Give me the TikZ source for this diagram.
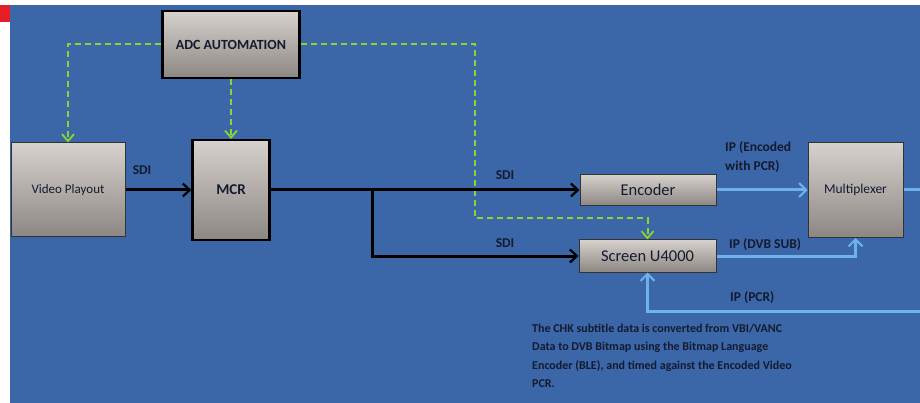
\documentclass[tikz,border=0pt]{standalone}
\usepackage{fontspec}
\setmainfont{Carlito}
\usetikzlibrary{arrows.meta}
\definecolor{bgblue}{RGB}{59,103,168}
\definecolor{lblue}{RGB}{110,178,236}
\definecolor{dgreen}{RGB}{140,212,50}
\definecolor{txt}{RGB}{20,26,48}
\definecolor{redmark}{RGB}{230,30,40}
\definecolor{boxtop}{RGB}{214,209,204}
\definecolor{boxbot}{RGB}{140,135,130}
\tikzset{
  box/.style={draw=black!80, line width=1pt, top color=boxtop, bottom color=boxbot, inner sep=0pt, align=center, text=txt},
  boxthick/.style={box, draw=black, line width=2.2pt},
  sdi/.style={line width=3pt, draw=black, -{Straight Barb[length=7pt,width=13pt,line width=2.2pt]}},
  ipl/.style={line width=3pt, draw=lblue, -{Straight Barb[length=7pt,width=14pt,line width=2pt]}},
  ctl/.style={line width=2pt, draw=dgreen, dash pattern=on 6pt off 4pt, -{Straight Barb[length=7pt,width=12pt,line width=1.8pt]}},
  lbl/.style={text=txt, font=\bfseries\fontsize{13.5}{15}\selectfont, inner sep=0pt}
}
\begin{document}
\begin{tikzpicture}[x=1pt,y=-1pt]
\useasboundingbox (0,0) rectangle (920,403);
\fill[white] (0,0) rectangle (920,403);
\fill[bgblue] (10,5) rectangle (920,403);
\fill[redmark] (0,5) rectangle (10,22);

\node[boxthick, minimum width=137pt, minimum height=67pt, font=\bfseries\fontsize{14}{16}\selectfont] (adc) at (231,44.5) {ADC AUTOMATION};
\node[box, minimum width=114pt, minimum height=94pt, font=\fontsize{13}{15}\selectfont] (vp) at (68,190) {Video Playout};
\node[boxthick, minimum width=77pt, minimum height=100pt, font=\bfseries\fontsize{15}{17}\selectfont] (mcr) at (231,190) {MCR};
\node[box, minimum width=136pt, minimum height=31pt, font=\fontsize{16.5}{18}\selectfont] (enc) at (648,190) {Encoder};
\node[box, minimum width=137pt, minimum height=32pt, font=\fontsize{16.5}{18}\selectfont] (scr) at (647.5,256) {Screen U4000};
\node[box, minimum width=95pt, minimum height=95pt, font=\fontsize{13.5}{15}\selectfont] (mux) at (855.5,190) {Multiplexer};

% control (green dashed)
\coordinate (g1) at (475,218);
\draw[ctl] (adc.west) -| (vp.north);
\draw[ctl] (adc.south) -- (mcr.north);
\draw[ctl] (adc.east) -| (g1) -| (scr.north);

% SDI (black)
\coordinate (br) at (372,190);
\draw[sdi] (vp.east) -- (mcr.west);
\draw[sdi] (mcr.east) -- (enc.west);
\draw[sdi] (br) |- (scr.west);

% IP (light blue)
\coordinate (mxo) at (920,190);
\coordinate (pcr) at (920,311);
\draw[ipl] (enc.east) -- (mux.west);
\draw[ipl] (scr.east) -| (mux.south);
\draw[line width=3pt, draw=lblue] (mux.east) -- (mxo);
\draw[ipl] (pcr) -| (scr.south);

% labels
\node[lbl] (l1) at (142,170) {SDI};
\node[lbl] (l2) at (505,175) {SDI};
\node[lbl] (l3) at (505,243) {SDI};
\node[lbl, anchor=north west, align=left, font=\bfseries\fontsize{13.5}{19}\selectfont] (l4) at (725,141) {IP (Encoded\\with PCR)};
\node[lbl, anchor=west] (l5) at (729,245) {IP (DVB SUB)};
\node[lbl, anchor=west] (l6) at (730,298) {IP (PCR)};
\node[lbl, anchor=north west, align=left, font=\bfseries\fontsize{12}{18.3}\selectfont] (note) at (532,324) {The CHK subtitle data is converted from VBI/VANC\\Data to DVB Bitmap using the Bitmap Language\\Encoder (BLE), and timed against the Encoded Video\\PCR.};
\end{tikzpicture}
\end{document}
